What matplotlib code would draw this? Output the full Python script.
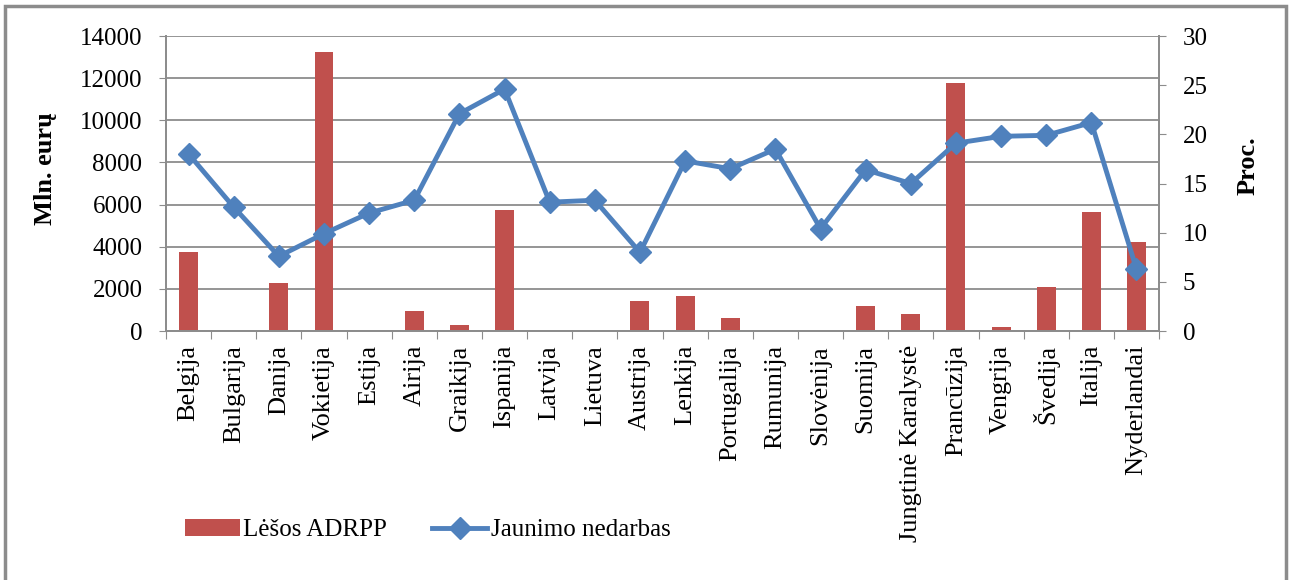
import matplotlib.pyplot as plt
from matplotlib.patches import Rectangle

plt.rcParams['font.family'] = ['Liberation Serif', 'DejaVu Serif']

salys = ['Belgija', 'Bulgarija', 'Danija', 'Vokietija', 'Estija', 'Airija', 'Graikija',
         'Ispanija', 'Latvija', 'Lietuva', 'Austrija', 'Lenkija', 'Portugalija', 'Rumunija',
         'Slovėnija', 'Suomija', 'Jungtinė Karalystė', 'Prancūzija', 'Vengrija', 'Švedija',
         'Italija', 'Nyderlandai']
lesos = [3730, 0, 2260, 13230, 0, 930, 270, 5740, 0, 0, 1420, 1680, 630, 0, 0, 1190,
         820, 11770, 210, 2100, 5630, 4210]
nedarbas = [18.0, 12.6, 7.6, 9.9, 12.0, 13.3, 22.1, 24.6, 13.1, 13.3, 8.0, 17.3, 16.5,
            18.5, 10.4, 16.4, 15.0, 19.1, 19.8, 19.9, 21.2, 6.3]

pilka = '#8c8c8c'

fig = plt.figure(figsize=(12.91, 5.80), dpi=100)
fig.patches.append(Rectangle((0.004, -0.02), 0.992, 1.01, transform=fig.transFigure,
                             fill=False, edgecolor=pilka, linewidth=2.5))
ax = fig.add_axes([0.1286, 0.4293, 0.7692, 0.5086])
ax2 = ax.twinx()

x = range(len(salys))
bars = ax.bar(x, lesos, width=0.42, color='#C0504D', label='Lėšos ADRPP', zorder=2)
line, = ax2.plot(x, nedarbas, color='#4F81BD', linewidth=3.5, marker='D', markersize=11,
                 label='Jaunimo nedarbas', zorder=3)

ax.set_xlim(-0.5, len(salys) - 0.5)
ax.set_ylim(0, 14000)
ax.set_yticks(range(0, 14001, 2000))
ax2.set_ylim(0, 30)
ax2.set_yticks(range(0, 31, 5))
ax.yaxis.grid(True, color=pilka, linewidth=1.3, zorder=0)
ax.set_axisbelow(True)

# kategoriju ribos - major, pavadinimai - minor
ax.set_xticks([i - 0.5 for i in range(len(salys) + 1)])
ax.set_xticklabels([])
ax.set_xticks(list(x), minor=True)
ax.set_xticklabels(salys, minor=True, rotation=90, fontsize=19)
ax.tick_params(axis='x', which='minor', length=0, pad=10)
ax.tick_params(axis='x', which='major', length=6, color=pilka)
ax.tick_params(axis='y', labelsize=18, length=5, color=pilka, pad=12)
ax2.tick_params(axis='y', labelsize=18, length=5, color=pilka, pad=12)

for a in (ax, ax2):
    a.spines['top'].set_visible(False)
    for s in ('left', 'right', 'bottom'):
        a.spines[s].set_color(pilka)
        a.spines[s].set_linewidth(1.3)

ax.set_ylabel('Mln. eurų', fontsize=19, fontweight='bold')
ax.yaxis.set_label_coords(-0.11, 0.55)
ax2.set_ylabel('Proc.', fontsize=19, fontweight='bold')
ax2.yaxis.set_label_coords(1.078, 0.56)

fig.legend(handles=[bars, line], loc='center left', bbox_to_anchor=(0.143, 0.086),
           ncol=2, frameon=False, fontsize=18, handlelength=2.2, columnspacing=1.8,
           handletextpad=0.15, borderpad=0, borderaxespad=0)

fig.savefig('out.png', dpi=100)
